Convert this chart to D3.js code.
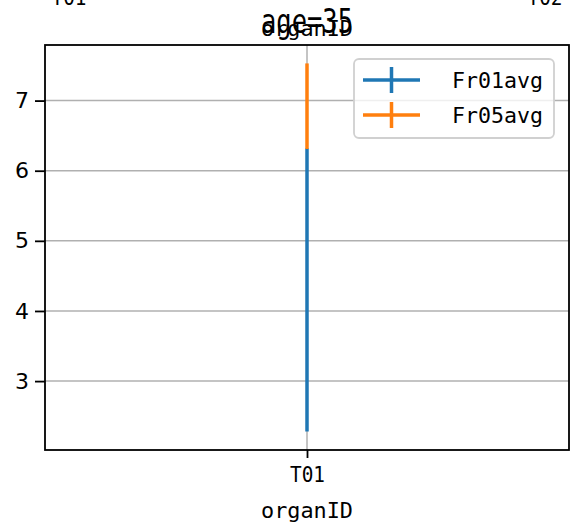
<!DOCTYPE html>
<html><head><meta charset="utf-8">
<script src="https://cdn.jsdelivr.net/npm/d3@7"></script>
<style>body{margin:0;background:#fff}svg{display:block}</style>
</head><body>
<script>
// ---- data ----
const categories = ["T01"];
const seriesNames = ["Fr01avg", "Fr05avg"];
const seriesColors = ["#1f77b4", "#ff7f0e"];
const fr01Mean = [4.30];
const fr01Err = [2.02];
const fr05Mean = [6.92];
const fr05Err = [0.61];
const yTicks = [3, 4, 5, 6, 7];
const titleText = "age=35";
const xLabel = "organID";
const topFragments = ["T01", "T02"];

const W = 572, H = 524;
const m = {l: 45, r: 3, t: 45, b: 74};
const svg = d3.select("body").append("svg").attr("width", W).attr("height", H);

const series = [
  {name: seriesNames[0], color: seriesColors[0], mean: fr01Mean, err: fr01Err},
  {name: seriesNames[1], color: seriesColors[1], mean: fr05Mean, err: fr05Err}
];
let lo = Infinity, hi = -Infinity;
series.forEach(s => s.mean.forEach((v, i) => { lo = Math.min(lo, v - s.err[i]); hi = Math.max(hi, v + s.err[i]); }));
const pad = (hi - lo) * 0.05;

const x = d3.scalePoint().domain(categories).range([m.l, W - m.r]).padding(0.5);
const y = d3.scaleLinear().domain([lo - pad, hi + pad]).range([H - m.b, m.t]);

const mono = "'DejaVu Sans Mono', monospace";

// fragments of a previous panel at the top
svg.selectAll("text.frag").data(topFragments).enter().append("text")
  .attr("x", (d, i) => i === 0 ? 69 : 545).attr("y", 5)
  .attr("text-anchor", "middle").attr("font-family", mono).attr("font-size", 22)
  .attr("textLength", 35).attr("lengthAdjust", "spacingAndGlyphs").text(d => d);

// grid
const g = svg.append("g");
g.selectAll("line.hg").data(yTicks).enter().append("line")
  .attr("x1", m.l).attr("x2", W - m.r).attr("y1", d => y(d)).attr("y2", d => y(d))
  .attr("stroke", "#b0b0b0").attr("stroke-width", 1.5);
g.selectAll("line.vg").data(categories).enter().append("line")
  .attr("x1", d => x(d)).attr("x2", d => x(d)).attr("y1", m.t).attr("y2", H - m.b)
  .attr("stroke", "#b0b0b0").attr("stroke-width", 1.5);

// error bars
series.forEach(s => {
  svg.selectAll(null).data(categories).enter().append("line")
    .attr("x1", d => x(d)).attr("x2", d => x(d))
    .attr("y1", (d, i) => y(s.mean[i] - s.err[i])).attr("y2", (d, i) => y(s.mean[i] + s.err[i]))
    .attr("stroke", s.color).attr("stroke-width", 3.5);
});

// axes
const yAxis = d3.axisLeft(y).tickValues(yTicks).tickSize(10).tickPadding(6).tickFormat(d3.format("d"));
const ya = svg.append("g").attr("transform", `translate(${m.l},0)`).call(yAxis);
ya.select(".domain").remove();
ya.selectAll("line").attr("stroke", "#000").attr("stroke-width", 1.8);
ya.selectAll("text").attr("font-family", "'DejaVu Sans', sans-serif").attr("font-size", 22).attr("fill", "#000");

const xAxis = d3.axisBottom(x).tickSize(8).tickPadding(6);
const xa = svg.append("g").attr("transform", `translate(0,${H - m.b})`).call(xAxis);
xa.select(".domain").remove();
xa.selectAll("line").attr("stroke", "#000").attr("stroke-width", 1.8);
xa.selectAll("text").attr("font-family", mono).attr("font-size", 22).attr("fill", "#000")
  .attr("y", 32).attr("dy", 0).attr("textLength", 35).attr("lengthAdjust", "spacingAndGlyphs");

// frame
svg.append("rect").attr("x", m.l).attr("y", m.t).attr("width", W - m.l - m.r).attr("height", H - m.t - m.b)
  .attr("fill", "none").attr("stroke", "#000").attr("stroke-width", 1.8);

// labels
svg.append("text").attr("x", x(categories[0])).attr("y", 518).attr("text-anchor", "middle")
  .attr("font-family", mono).attr("font-size", 22).attr("textLength", 92).attr("lengthAdjust", "spacingAndGlyphs").text(xLabel);
svg.append("text").attr("x", x(categories[0])).attr("y", 33).attr("text-anchor", "middle")
  .attr("font-family", mono).attr("font-size", 33).attr("textLength", 92).attr("lengthAdjust", "spacingAndGlyphs").text(titleText);
svg.append("text").attr("x", x(categories[0])).attr("y", 36).attr("text-anchor", "middle")
  .attr("font-family", mono).attr("font-size", 21).attr("textLength", 92).attr("lengthAdjust", "spacingAndGlyphs").text(xLabel);

// legend
const lg = svg.append("g");
lg.append("rect").attr("x", 354).attr("y", 59).attr("width", 200).attr("height", 79).attr("rx", 5)
  .attr("fill", "rgba(255,255,255,0.8)").attr("stroke", "#d0d0d0").attr("stroke-width", 1.8);
series.forEach((s, i) => {
  const cy = 80 + i * 35;
  lg.append("line").attr("x1", 363).attr("x2", 420).attr("y1", cy).attr("y2", cy).attr("stroke", s.color).attr("stroke-width", 3.5);
  lg.append("line").attr("x1", 391.5).attr("x2", 391.5).attr("y1", cy - 13).attr("y2", cy + 13).attr("stroke", s.color).attr("stroke-width", 3.5);
  lg.append("text").attr("x", 452).attr("y", cy + 8).attr("font-family", mono).attr("font-size", 22)
    .attr("textLength", 91).attr("lengthAdjust", "spacingAndGlyphs").text(s.name);
});
</script>
</body></html>
